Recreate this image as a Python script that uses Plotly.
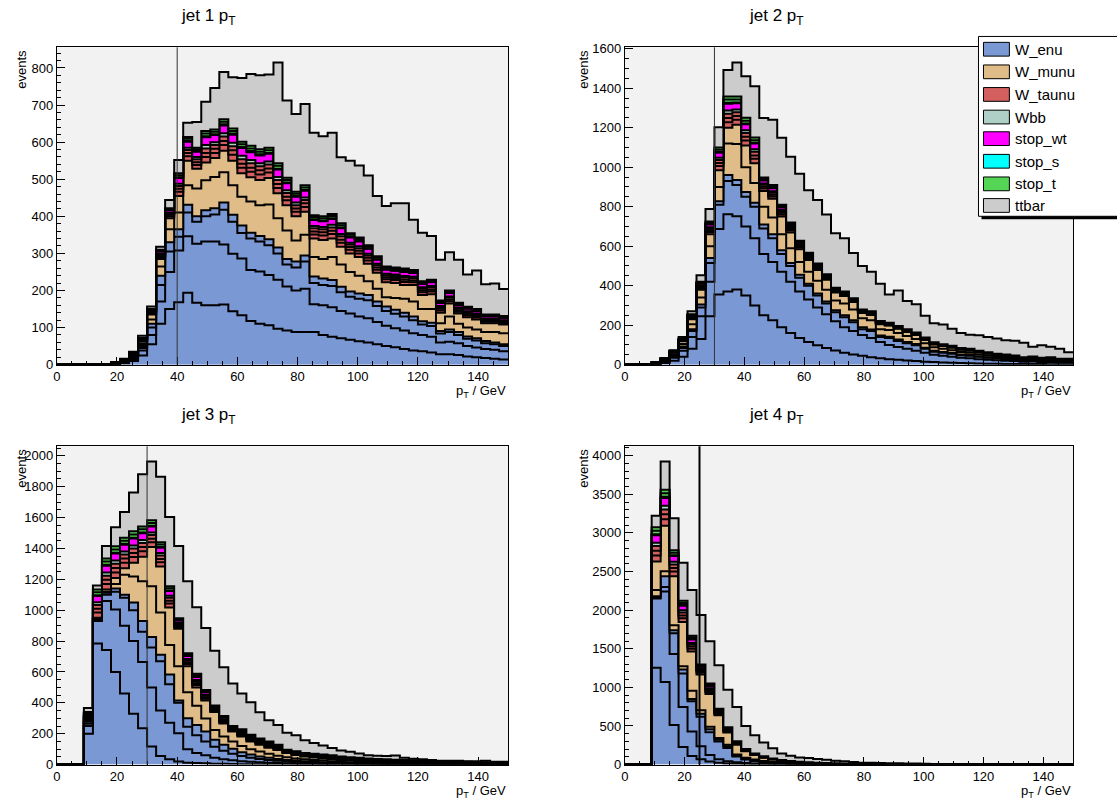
import numpy as np
import plotly.graph_objects as go

W, H = 1117, 807
bin_edges = list(range(0, 151, 3))   # 50 bins of 3 GeV, 0..150

sample_names = ["W_enu", "W_munu", "W_taunu", "Wbb", "stop_wt", "stop_s", "stop_t", "ttbar"]
sample_colors = ["#7a99d4", "#e0bc89", "#d35f5f", "#afd0c6", "#ff00ff", "#00ffff", "#55d555", "#cccccc"]
panel_titles = ["jet 1 p<sub>T</sub>", "jet 2 p<sub>T</sub>", "jet 3 p<sub>T</sub>", "jet 4 p<sub>T</sub>"]
cut_values = [40, 30, 30, 25]

# ---------------- jet 1 ----------------
j1_wenu_np0 = [0,0,0,0,0, 1,2,4,10,25, 55,110,150,168,194, 167,160,160,162,144, 133,118,110,106,97, 92,88,88,88,80, 75,71,67,63,60, 55,50,47,42,38, 36,33,28,28,26, 22,20,18,16,14]
j1_wenu_np1 = [0,0,0,0,0, 0,1,3,5,13, 25,60,100,140,152, 159,172,172,162,155, 153,137,141,136,132, 119,112,117,75,80, 80,74,71,67,65, 60,55,51,50,47, 44,42,32,34,32, 28,26,24,24,22]
j1_wenu_np2 = [0,0,0,0,0, 0,0,1,4,7, 20,45,55,37,64, 59,68,73,94,86, 69,85,81,80,71, 59,62,73,57,55, 57,50,45,48,49, 43,40,39,38,35, 28,29,24,26,22, 20,19,16,15,14]
j1_wenu_np3 = [0,0,0,0,0, 0,1,1,2,5, 10,25,25,20,21, 15,16,17,19,19, 20,16,15,16,16, 15,16,16,18,17, 16,15,14,14,14, 12,12,11,10,10, 9,9,7,7,8, 6,6,6,5,5]
j1_wmunu_np0 = [0,0,0,0,0, 0,0,1,3,6, 12,25,35,45,53, 75,81,84,82,80, 78,84,83,94,79, 77,57,56,52,53, 62,60,53,48,37, 35,25,32,38,40, 33,37,21,35,22, 24,24,24,28,30]
j1_wmunu_np1 = [0,0,0,0,0, 0,1,2,3,6, 13,20,30,45,66, 53,48,51,58,66, 63,65,68,71,67, 68,65,62,50,51, 50,48,50,50,47, 43,40,40,37,45, 38,40,28,35,28, 28,27,24,24,23]
j1_wtaunu_np0 = [0,0,0,0,0, 1,1,1,1,2, 3,4,5,11,12, 10,15,14,15,16, 15,15,15,15,14, 13,12,13,11,12, 12,11,10,10,9, 8,8,8,8,7, 7,7,6,6,5, 5,5,4,4,4]
j1_wtaunu_np1 = [0,0,0,0,0, 0,0,0,1,2, 2,3,4,8,9, 8,11,11,11,12, 11,11,11,11,11, 10,9,10,8,9, 9,8,7,7,7, 6,6,6,6,5, 5,5,5,5,4, 4,4,3,3,3]
j1_wtaunu_np2 = [0,0,0,0,0, 0,0,0,0,1, 2,4,3,8,8, 8,12,10,12,11, 12,12,11,11,11, 10,9,9,9,8, 9,9,7,7,6, 6,5,5,6,6, 5,6,4,5,4, 4,4,3,3,3]
j1_wbb = [0,0,0,0,0, 0,0,0,1,1, 2,3,3,6,6, 6,9,8,9,9, 9,9,8,8,8, 7,7,7,6,6, 7,6,5,5,5, 4,4,4,4,4, 4,4,3,3,3, 3,3,2,2,2]
j1_stop_wt = [0,0,0,0,0, 0,0,1,1,2, 3,6,7,15,16, 14,21,19,21,22, 21,21,21,21,20, 19,16,18,16,16, 16,16,14,13,13, 11,11,10,11,10, 9,10,8,9,7, 7,7,6,6,6]
j1_stop_s = [0,0,0,0,0, 0,0,0,0,0, 1,1,1,2,2, 2,3,2,3,3, 3,3,3,2,2, 2,2,2,2,2, 2,2,2,2,2, 1,1,1,1,1, 1,1,1,1,1, 1,1,1,1,1]
j1_stop_t_a = [0,0,0,0,0, 0,0,0,1,1, 1,2,2,6,6, 5,7,7,7,7, 7,7,7,7,8, 7,6,7,6,6, 6,6,5,5,4, 4,4,4,4,4, 3,3,3,3,3, 2,2,2,2,2]
j1_stop_t_b = [0,0,0,0,0, 0,0,0,0,1, 1,2,2,5,5, 4,7,6,7,7, 7,7,7,7,7, 6,5,6,5,5, 5,5,4,4,4, 4,4,4,4,3, 3,3,3,3,2, 2,2,2,2,2]
j1_ttbar = [0,0,0,0,0, 0,1,2,3,6, 7,8,22,36,38, 69,79,112,127,138, 172,194,199,197,272, 208,210,219,222,216, 219,178,196,194,188, 163,163,173,176,136, 131,118,110,103,116, 87,104,82,84,73]

# ---------------- jet 2 ----------------
j2_wenu_np0 = [0,1,2,3,8, 20,40,80,130,245, 356,370,381,350,300, 250,225,190,160,135, 115,98,85,72,60, 52,45,38,32,28, 25,21,18,15,13, 11,10,8,7,6, 5,5,4,4,3, 3,3,2,2,2]
j2_wenu_np1 = [0,0,1,2,5, 15,30,60,115,175, 331,392,371,350,340, 310,295,280,260,235, 215,192,170,148,130, 118,105,97,83,72, 65,59,52,45,37, 34,30,27,25,22, 20,17,16,14,12, 13,10,12,9,9]
j2_wenu_np2 = [0,0,0,1,3, 7,15,30,45,95, 123,168,158,150,160, 130,120,90,80,70, 70,60,55,45,50, 45,30,35,25,35, 30,28,28,20,15, 15,15,13,13,12, 10,9,8,7,6, 7,6,6,5,5]
j2_wenu_np3 = [0,0,0,1,2, 4,7,10,15,25, 18,30,25,25,20, 20,20,20,15,15, 10,10,10,10,10, 10,10,8,8,7, 8,7,7,6,5, 4,4,4,4,3, 3,3,3,3,2, 2,2,2,1,1]
j2_wmunu_np0 = [0,0,0,1,4, 6,13,25,35,60, 72,160,183,125,100, 90,85,80,75,65, 60,65,60,50,60, 55,45,47,32,33, 32,30,25,22,18, 16,14,12,11,10, 9,7,7,6,5, 5,5,6,5,5]
j2_wmunu_np1 = [0,0,0,1,4, 8,13,25,40,60, 85,80,97,110,100, 80,95,90,80,65, 60,55,50,40,38, 38,27,27,25,23, 22,21,20,17,14, 14,13,11,11,10, 9,8,7,6,5, 6,5,5,4,4]
j2_wtaunu_np0 = [0,1,1,1,1, 2,2,4,7,12, 21,28,26,25,23, 12,12,11,9,8, 7,6,5,4,4, 4,3,3,3,2, 2,2,2,2,2, 2,2,2,2,2, 1,1,1,1,1, 1,1,1,1,1]
j2_wtaunu_np1 = [0,0,0,0,1, 2,2,3,5,9, 16,21,19,19,17, 9,9,8,7,6, 5,4,4,3,3, 3,2,2,2,2, 2,2,2,2,2, 2,2,2,1,1, 1,1,1,1,1, 1,1,1,1,1]
j2_wtaunu_np2 = [0,0,0,0,1, 1,1,4,6,8, 15,22,19,19,18, 10,10,8,6,5, 5,4,4,4,3, 2,3,3,2,2, 2,2,2,2,1, 1,1,1,1,1, 1,1,1,1,0, 0,0,0,0,0]
j2_wbb = [0,0,0,0,1, 1,1,3,4,7, 11,16,14,14,13, 7,7,6,5,4, 4,3,3,3,2, 2,2,2,2,1, 1,1,1,1,1, 1,1,1,1,1, 1,1,1,1,1, 1,0,1,0,0]
j2_stop_wt = [0,0,0,1,1, 2,3,6,9,14, 25,35,31,31,29, 15,16,13,11,10, 8,7,6,6,5, 4,4,4,4,3, 3,3,3,3,2, 2,2,2,2,2, 2,1,1,1,1, 1,1,1,1,1]
j2_stop_s = [0,0,0,0,0, 0,0,1,1,2, 4,5,4,4,4, 2,2,2,2,1, 1,1,1,1,1, 1,0,1,0,1, 1,0,0,0,0, 0,0,0,0,0, 0,0,0,0,0, 0,0,0,0,0]
j2_stop_t_a = [0,0,0,1,1, 1,2,2,4,7, 12,16,15,14,13, 7,7,6,5,5, 4,4,3,2,2, 2,2,2,2,2, 2,2,2,2,2, 1,1,1,1,1, 1,1,1,1,1, 1,1,1,1,1]
j2_stop_t_b = [0,0,0,0,0, 1,1,2,4,6, 11,15,15,14,13, 6,7,6,5,4, 3,3,2,2,2, 1,1,1,1,1, 1,1,1,1,1, 1,1,1,1,0, 0,0,0,0,0, 0,0,0,0,0]
j2_ttbar = [0,0,0,0,1, 3,10,15,33,63, 102,135,173,211,260, 301,330,339,333,339, 317,322,302,275,270, 229,221,200,189,143, 180,144,143,110,97, 100,86,75,72,78, 77,77,73,75,73, 50,63,53,50,33]

# ---------------- jet 3 ----------------
j3_wenu_np0 = [0,0,0,200,785, 743,600,460,330,235, 118,55,34,20,12, 10,8,6,5,4, 3,3,2,2,2, 1,1,1,1,1, 0,0,0,0,0, 0,0,0,0,0, 0,0,0,0,0, 0,0,0,0,0]
j3_wenu_np1 = [0,0,0,50,145, 317,405,440,470,430, 382,296,237,183,88, 65,52,39,30,24, 19,15,13,10,8, 7,6,5,4,3, 3,3,2,2,2, 1,1,1,1,1, 1,0,0,0,0, 0,0,0,0,0]
j3_wenu_np2 = [0,0,0,15,10, 40,115,180,200,195, 258,318,250,197,145, 115,90,70,55,42, 33,27,22,18,15, 12,10,8,7,6, 6,5,5,4,3, 3,3,2,2,1, 1,2,1,1,1, 1,1,1,1,0]
j3_wenu_np3 = [0,0,0,12,4, 13,20,20,50,70, 69,42,63,15,55, 66,64,46,39,32, 25,20,16,14,12, 10,9,8,7,6, 5,4,3,3,3, 3,2,2,1,2, 1,1,1,1,1, 1,0,0,0,1]
j3_wmunu_np0 = [0,0,0,5,4, 7,30,130,169,257, 329,275,191,222,168, 125,84,63,53,48, 40,35,32,26,21, 18,14,12,11,10, 8,7,6,5,4, 3,3,3,3,2, 2,2,2,2,1, 1,2,1,1,1]
j3_wmunu_np1 = [0,0,0,8,4, 14,38,42,89,159, 253,297,243,243,169, 118,117,117,85,64, 62,50,43,40,37, 27,22,18,16,14, 13,11,10,8,7, 6,5,4,4,4, 4,3,3,2,3, 2,2,2,2,2]
j3_wtaunu_np0 = [0,0,0,9,33, 36,37,36,36,36, 31,28,25,12,15, 16,12,8,9,6, 8,8,8,7,6, 4,4,4,4,4, 4,4,4,4,4, 4,4,4,4,3, 3,3,3,2,2, 2,2,2,2,2]
j3_wtaunu_np1 = [0,0,0,7,25, 27,28,27,27,27, 23,21,19,9,11, 12,9,6,7,5, 6,6,6,5,5, 3,3,3,3,3, 3,3,3,3,3, 3,3,3,3,2, 2,2,2,2,2, 2,2,2,2,1]
j3_wtaunu_np2 = [0,0,0,6,24, 27,28,26,28,26, 24,22,18,10,12, 12,10,5,6,5, 7,5,5,6,4, 3,4,4,4,4, 4,3,3,3,2, 2,2,2,2,3, 3,2,2,2,2, 2,1,1,1,1]
j3_wbb = [0,0,0,5,18, 20,21,20,20,20, 17,16,14,7,9, 9,7,4,5,4, 5,4,4,4,3, 2,3,2,2,3, 3,2,2,2,2, 2,2,2,2,2, 2,2,1,1,1, 1,1,1,1,1]
j3_stop_wt = [0,0,0,11,40, 44,45,43,45,43, 38,35,30,15,19, 20,15,9,11,8, 10,9,9,9,7, 5,6,5,5,6, 6,5,5,5,5, 4,4,4,4,4, 4,4,3,3,3, 3,3,3,2,2]
j3_stop_s = [0,0,0,2,5, 6,6,6,6,6, 5,5,4,2,3, 3,2,1,1,1, 1,1,1,1,1, 1,1,1,1,1, 1,1,1,1,1, 1,1,1,0,0, 0,0,0,0,0, 0,0,0,0,0]
j3_stop_t_a = [0,0,0,5,19, 21,21,20,21,20, 18,16,14,7,8, 9,7,5,5,4, 5,5,4,4,4, 2,2,3,3,2, 2,2,2,2,2, 2,2,2,2,2, 2,2,2,2,2, 2,2,2,2,2]
j3_stop_t_b = [0,0,0,5,18, 20,20,19,20,19, 18,15,14,6,8, 8,6,4,4,3, 5,5,4,4,4, 2,2,2,2,2, 2,2,2,2,2, 2,2,2,2,2, 1,1,2,2,1, 1,1,1,1,1]
j3_ttbar = [0,0,0,26,26, 81,123,167,252,338, 381,423,448,468,465, 432,402,354,316,275, 232,211,170,138,127, 110,103,81,70,58, 48,39,35,28,21, 21,21,27,14,10, 8,6,3,5,6, 3,4,9,4,5]

# ---------------- jet 4 ----------------
j4_wenu_np0 = [0,0,0,1253,1070, 512,229,110,68,40, 25,15,10,7,5, 4,3,2,2,1, 1,1,1,0,0, 0,0,0,0,0, 0,0,0,0,0, 0,0,0,0,0, 0,0,0,0,0, 0,0,0,0,0]
j4_wenu_np1 = [0,0,0,897,1170, 919,516,318,169,83, 43,30,20,13,9, 6,5,4,3,3, 2,1,1,1,1, 1,1,0,0,0, 0,0,0,0,0, 0,0,0,0,0, 0,0,0,0,0, 0,0,0,0,0]
j4_wenu_np2 = [0,0,0,15,60, 269,435,392,383,297, 232,170,75,46,34, 25,17,12,8,6, 5,4,3,3,2, 1,1,1,1,1, 1,1,0,0,0, 0,0,0,0,0, 0,0,0,0,0, 0,0,0,0,0]
j4_wenu_np3 = [0,0,0,15,138, 40,52,31,40,37, 22,22,14,10,7, 5,4,3,2,2, 1,1,1,1,1, 1,0,1,1,0, 0,0,1,1,0, 0,0,0,0,0, 0,0,0,0,0, 0,0,0,0,0]
j4_wmunu_np0 = [0,0,0,80,64, 63,42,106,43,34, 21,21,12,13,10, 8,6,5,4,3, 3,2,2,1,1, 1,1,1,0,1, 1,0,0,0,0, 0,0,0,0,0, 0,0,0,0,0, 0,0,0,0,0]
j4_wmunu_np1 = [0,0,0,369,592, 635,571,508,465,423, 296,157,127,85,58, 42,30,22,17,13, 10,8,6,5,4, 3,3,2,2,2, 1,2,1,1,1, 1,1,1,1,1, 1,1,1,1,1, 1,1,1,1,1]
j4_wtaunu_np0 = [0,0,0,80,84, 61,50,36,23,24, 15,12,8,5,4, 3,3,2,2,2, 2,1,1,1,1, 1,1,1,1,1, 1,1,1,1,1, 1,1,1,1,1, 1,1,1,1,1, 1,1,1,1,1]
j4_wtaunu_np1 = [0,0,0,60,63, 46,37,27,17,18, 11,9,6,4,3, 2,2,2,1,1, 1,1,1,1,1, 1,0,0,0,0, 0,0,0,0,0, 0,0,0,0,0, 0,0,0,0,0, 0,0,0,0,0]
j4_wtaunu_np2 = [0,0,0,60,63, 46,37,28,17,19, 12,10,5,4,2, 3,2,1,1,1, 1,1,1,0,0, 0,0,0,0,0, 0,0,0,0,0, 0,0,0,0,0, 0,0,0,0,0, 0,0,0,0,0]
j4_wbb = [0,0,0,44,47, 34,28,20,13,14, 9,7,4,3,2, 2,1,1,1,1, 1,1,1,1,0, 0,0,0,0,0, 0,0,0,0,0, 0,0,0,0,0, 0,0,0,0,0, 0,0,0,0,0]
j4_stop_wt = [0,0,0,98,102, 75,61,45,28,30, 19,15,10,6,5, 4,3,3,2,2, 2,2,1,1,1, 1,1,1,1,1, 1,1,1,1,1, 1,1,1,1,1, 1,1,1,1,1, 1,1,1,0,0]
j4_stop_s = [0,0,0,13,14, 10,8,6,4,4, 3,2,1,1,1, 1,1,0,0,0, 0,0,0,0,0, 0,0,0,0,0, 0,0,0,0,0, 0,0,0,0,0, 0,0,0,0,0, 0,0,0,0,0]
j4_stop_t_a = [0,0,0,45,47, 34,28,21,13,14, 8,7,5,3,2, 2,2,2,2,1, 1,1,1,1,1, 1,1,1,1,0, 0,0,0,0,0, 0,0,0,0,0, 0,0,0,0,0, 0,0,0,0,0]
j4_stop_t_b = [0,0,0,44,46, 33,27,20,12,13, 8,6,4,3,2, 1,1,1,1,1, 0,0,0,0,0, 0,0,0,0,0, 0,0,0,0,0, 0,0,0,0,0, 0,0,0,0,0, 0,0,0,0,0]
j4_ttbar = [0,0,0,148,366, 413,494,592,643,546, 561,487,445,297,236, 177,132,84,69,56, 55,48,44,35,29, 23,16,17,14,11, 12,8,9,6,5, 5,4,3,3,2, 2,1,1,1,1, 0,0,0,0,0]

layer_keys = [
    ("W_enu", "wenu_np0"), ("W_enu", "wenu_np1"), ("W_enu", "wenu_np2"), ("W_enu", "wenu_np3"),
    ("W_munu", "wmunu_np0"), ("W_munu", "wmunu_np1"),
    ("W_taunu", "wtaunu_np0"), ("W_taunu", "wtaunu_np1"), ("W_taunu", "wtaunu_np2"),
    ("Wbb", "wbb"), ("stop_wt", "stop_wt"), ("stop_s", "stop_s"),
    ("stop_t", "stop_t_a"), ("stop_t", "stop_t_b"), ("ttbar", "ttbar"),
]

color_of = dict(zip(sample_names, sample_colors))

# pixel geometry of the four frames (left, right, top, bottom)
frames = [(53, 506, 42, 365), (623, 1073, 42, 365), (53, 506, 448, 772), (623, 1073, 448, 772)]
ytick_major = [100, 200, 200, 500]
ytick_minor = [20, 50, 50, 100]
title_dx = [-74, -73, -74, -73]
ytitle_dx = [-35, -41, -35, -41]

def px(x): return x / W
def py(y): return 1 - y / H

fig = go.Figure()
layout_axes = {}
shapes = []
annotations = []
FONT = "Liberation Sans, Arial, Helvetica, sans-serif"
g = globals()

for i in range(4):
    p = i + 1
    xa = "x" if p == 1 else "x%d" % p
    ya = "y" if p == 1 else "y%d" % p
    cum = np.zeros(len(bin_edges) - 1)
    for j, (name, key) in enumerate(layer_keys):
        vals = np.asarray(g["j%d_%s" % (p, key)], dtype=float)
        assert len(vals) == 50, (p, key, len(vals))
        cum = cum + vals
        yy = np.append(cum, cum[-1])
        fig.add_trace(go.Scatter(
            x=bin_edges, y=yy, xaxis=xa, yaxis=ya, mode="lines", name=name,
            line=dict(color="black", width=2, shape="hv"),
            fill="tozeroy" if j == 0 else "tonexty",
            fillcolor=color_of[name], showlegend=False, hoverinfo="skip"))
    ymax = 1.05 * cum.max()
    l, r, t, b = frames[i]
    xkey = "xaxis" if p == 1 else "xaxis%d" % p
    ykey = "yaxis" if p == 1 else "yaxis%d" % p
    layout_axes[xkey] = dict(
        domain=[px(l), px(r)], range=[0, 150], anchor=ya,
        showline=True, linecolor="black", linewidth=1, mirror=True,
        ticks="inside", ticklen=8, tickwidth=1, tickcolor="black",
        tick0=0, dtick=20, showgrid=False, zeroline=False,
        minor=dict(ticks="inside", ticklen=4, tickcolor="black", dtick=5, tick0=0),
        tickfont=dict(family=FONT, size=13, color="black"))
    layout_axes[ykey] = dict(
        domain=[py(b), py(t)], range=[0, ymax], anchor=xa,
        showline=True, linecolor="black", linewidth=1, mirror=True,
        ticks="inside", ticklen=8, tickwidth=1, tickcolor="black",
        tick0=0, dtick=ytick_major[i], showgrid=False, zeroline=False,
        minor=dict(ticks="inside", ticklen=4, tickcolor="black", dtick=ytick_minor[i], tick0=0),
        tickfont=dict(family=FONT, size=13, color="black"))
    # cut line
    shapes.append(dict(type="line", xref=xa, yref=ya + " domain", x0=cut_values[i], x1=cut_values[i],
                       y0=0, y1=1, layer="above",
                       line=dict(color="black" if p == 4 else "#333333", width=2 if p == 4 else 1)))
    # titles
    annotations.append(dict(text=panel_titles[i], xref="paper", yref="paper",
                            x=px((l + r) / 2 + title_dx[i]), y=py(t - 31), xanchor="center", yanchor="middle",
                            showarrow=False, font=dict(family=FONT, size=17, color="black")))
    annotations.append(dict(text="events", xref="paper", yref="paper", x=px(l + ytitle_dx[i]), y=py(t),
                            xanchor="center", yanchor="top", textangle=-90, showarrow=False,
                            font=dict(family=FONT, size=13, color="black")))
    annotations.append(dict(text="p<sub>T</sub> / GeV", xref="paper", yref="paper", x=px(r), y=py(b + 27),
                            xanchor="right", yanchor="middle", showarrow=False,
                            font=dict(family=FONT, size=13, color="black")))

# legend box (manual, ROOT style)
lx0, lx1, ly0, ly1 = 978, 1125, 31, 214
shapes.append(dict(type="rect", xref="paper", yref="paper", x0=px(lx0 + 3), x1=px(lx1 + 3),
                   y0=py(ly1 + 3), y1=py(ly0 + 3), fillcolor="black", line=dict(width=0), layer="above"))
shapes.append(dict(type="rect", xref="paper", yref="paper", x0=px(lx0), x1=px(lx1),
                   y0=py(ly1), y1=py(ly0), fillcolor="white", line=dict(color="black", width=1), layer="above"))
row_y = [44, 67, 90, 113, 135, 158, 181, 203]
for name, col, yc in zip(sample_names, sample_colors, row_y):
    shapes.append(dict(type="rect", xref="paper", yref="paper", x0=px(983), x1=px(1009),
                       y0=py(yc + 7), y1=py(yc - 7), fillcolor=col,
                       line=dict(color="black", width=1), layer="above"))
    annotations.append(dict(text=name, xref="paper", yref="paper", x=px(1013), y=py(yc),
                            xanchor="left", yanchor="middle", showarrow=False,
                            font=dict(family=FONT, size=15, color="black")))

fig.update_layout(
    width=W, height=H, autosize=False,
    margin=dict(l=0, r=0, t=0, b=0),
    paper_bgcolor="white", plot_bgcolor="#f2f2f2",
    showlegend=False, shapes=shapes, annotations=annotations,
    **layout_axes)

fig.write_html("out.html")
